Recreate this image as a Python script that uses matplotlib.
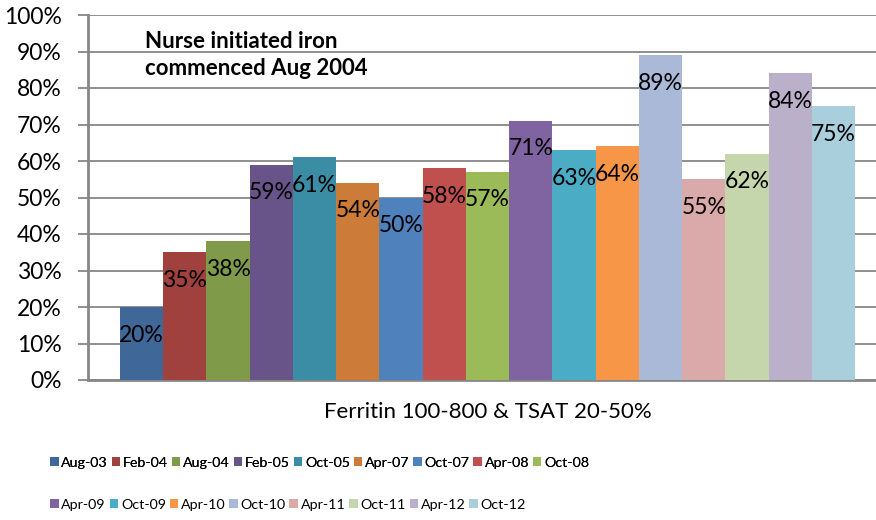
import numpy as np
import matplotlib.pyplot as plt
from matplotlib.patches import Patch

# data
dates = ["Aug-03", "Feb-04", "Aug-04", "Feb-05", "Oct-05", "Apr-07", "Oct-07", "Apr-08",
         "Oct-08", "Apr-09", "Oct-09", "Apr-10", "Oct-10", "Apr-11", "Oct-11", "Apr-12", "Oct-12"]
values = [20, 35, 38, 59, 61, 54, 50, 58, 57, 71, 63, 64, 89, 55, 62, 84, 75]
colors = ["#3F6797", "#A0413E", "#7F9A48", "#69548A", "#3B8DA5", "#CC7B38", "#4F81BD", "#C0504D",
          "#9BBB59", "#8064A2", "#4BACC6", "#F79646", "#AAB9D7", "#D9AAA9", "#C6D6AC", "#BAB0C9", "#A9CEDC"]
category = "Ferritin 100-800 & TSAT 20-50%"
note = "Nurse initiated iron\ncommenced Aug 2004"

plt.rcParams['font.family'] = ['Lato', 'DejaVu Sans']

W, H = 876, 520
fig = plt.figure(figsize=(W / 100, H / 100), dpi=100)
ax = fig.add_axes([88 / W, 1 - 380 / H, 790 / W, 365 / H])

x = np.arange(len(values))
bars = ax.bar(x, values, width=1.0, color=colors, zorder=3)

# labels sit inside the top of each bar
for xi, v in zip(x, values):
    ax.annotate(f"{v}%", (xi, v), xytext=(0, -28), textcoords='offset pixels',
                ha='center', va='center', fontsize=16.5, color='black', zorder=4)

ax.set_xlim(-1.24, 17.03)
ax.set_ylim(0, 100)
ax.set_yticks(np.arange(0, 101, 10))
ax.set_yticklabels([f"{t}%" for t in range(0, 101, 10)], fontsize=16.5)
ax.set_xticks([])
ax.grid(axis='y', color='#878787', linewidth=1.3, zorder=0)
ax.tick_params(axis='y', length=7, width=1.3, color='#878787', pad=12)
for s in ['top', 'right']:
    ax.spines[s].set_visible(False)
for s in ['left', 'bottom']:
    ax.spines[s].set_color('#878787')
    ax.spines[s].set_linewidth(2)

fig.text(488 / W, 1 - 412 / H, category, ha='center', va='center', fontsize=16)
fig.text(145 / W, 1 - 55 / H, note, ha='left', va='center', fontsize=16,
         fontweight='bold', linespacing=1.35)

# legend: two rows, both left aligned
handles = [Patch(facecolor=c, label=d) for c, d in zip(colors, dates)]
leg_kw = dict(frameon=False, fontsize=10.3, handlelength=0.6, handleheight=0.6,
              handletextpad=0.2, columnspacing=0.25, borderaxespad=0, borderpad=0)
leg1 = fig.legend(handles=handles[:9], ncol=9, loc='center left',
                  bbox_to_anchor=(50 / W, 1 - 463 / H), **leg_kw)
fig.add_artist(leg1)
fig.legend(handles=handles[9:], ncol=8, loc='center left',
           bbox_to_anchor=(50 / W, 1 - 505 / H), **leg_kw)

fig.savefig("out.png", dpi=100)
